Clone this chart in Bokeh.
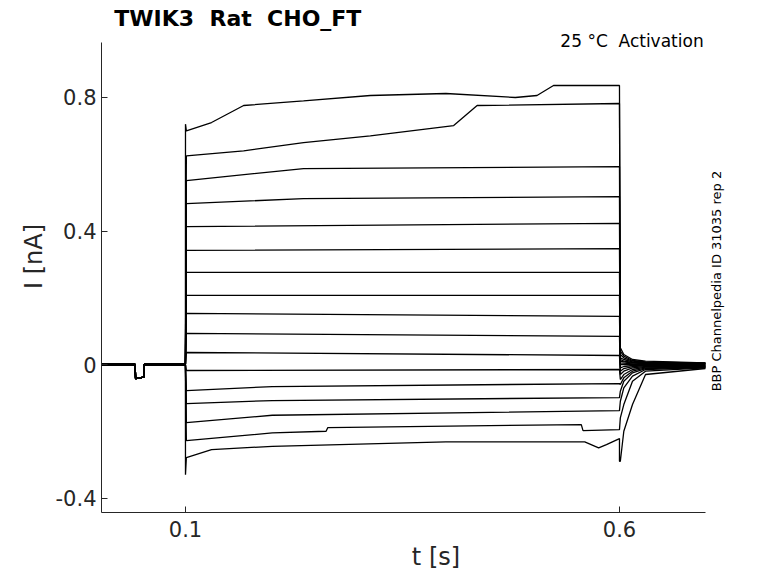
from bokeh.plotting import figure
from bokeh.models import Label, Range1d, FixedTicker
from bokeh.embed import file_html
from bokeh.resources import INLINE

# step-phase samples (t [s], I [nA]) per trace, top to bottom
step_t = [
    [0.101, 0.13, 0.167, 0.236, 0.313, 0.40, 0.48, 0.505, 0.524, 0.6],
    [0.101, 0.167, 0.236, 0.313, 0.409, 0.436, 0.6],
    [0.101, 0.236, 0.6], [0.101, 0.236, 0.6], [0.101, 0.6], [0.101, 0.6],
    [0.101, 0.6], [0.101, 0.6], [0.101, 0.6], [0.101, 0.6], [0.101, 0.6],
    [0.101, 0.6], [0.101, 0.2, 0.6], [0.101, 0.2, 0.6], [0.101, 0.2, 0.6],
    [0.101, 0.2, 0.262, 0.264, 0.556, 0.558, 0.6],
    [0.101, 0.13, 0.2, 0.4, 0.56, 0.576, 0.585, 0.6],
]
step_v = [
    [0.70, 0.725, 0.776, 0.790, 0.806, 0.812, 0.800, 0.806, 0.836, 0.836],
    [0.625, 0.640, 0.665, 0.685, 0.716, 0.776, 0.782],
    [0.551, 0.587, 0.593], [0.482, 0.497, 0.503], [0.413, 0.423], [0.342, 0.347],
    [0.276, 0.276], [0.207, 0.207], [0.153, 0.144], [0.093, 0.084], [0.036, 0.027],
    [-0.018, -0.015], [-0.078, -0.066, -0.057], [-0.117, -0.108, -0.099],
    [-0.174, -0.152, -0.138],
    [-0.228, -0.205, -0.200, -0.189, -0.180, -0.198, -0.195],
    [-0.279, -0.255, -0.245, -0.232, -0.232, -0.250, -0.240, -0.222],
]
onset_v = [0.72] + [None] * 15 + [-0.33]
tail_t = [0.601, 0.605, 0.615, 0.63, 0.699]
tail_v = [
    [0.05, 0.03, 0.015, 0.01, 0.005], [0.04, 0.025, 0.012, 0.008, 0.004],
    [0.03, 0.02, 0.01, 0.006, 0.004], [0.02, 0.015, 0.008, 0.005, 0.003],
    [0.015, 0.01, 0.006, 0.004, 0.002], [0.01, 0.008, 0.004, 0.003, 0.001],
    [0.005, 0.004, 0.002, 0.001, 0.0], [0.0, 0.0, 0.0, 0.0, -0.002],
    [-0.01, -0.006, -0.003, -0.002, -0.003], [-0.02, -0.012, -0.006, -0.004, -0.004],
    [-0.03, -0.02, -0.01, -0.006, -0.005], [-0.045, -0.03, -0.015, -0.008, -0.006],
    [-0.06, -0.04, -0.02, -0.01, -0.007], [-0.08, -0.05, -0.025, -0.012, -0.008],
    [-0.11, -0.07, -0.035, -0.015, -0.009], [-0.16, -0.12, -0.05, -0.02, -0.010],
    [-0.29, -0.20, -0.12, -0.03, -0.012],
]
base_t = [0.0035, 0.042, 0.0425, 0.052, 0.0525, 0.0999]
base_v = [0.0, 0.0, -0.042, -0.038, 0.0, 0.0]

p = figure(width=770, height=575, output_backend="svg", toolbar_location=None,
           x_range=Range1d(0.00323, 0.774), y_range=Range1d(-0.4434, 1.0906),
           min_border_left=101, min_border_right=0, min_border_top=0, min_border_bottom=63)
p.title.visible = False
p.grid.visible = False
p.outline_line_color = None

for i in range(len(step_t)):
    xs = list(base_t)
    ys = list(base_v)
    if onset_v[i] is not None:
        xs.append(0.1); ys.append(onset_v[i])
    xs += step_t[i]; ys += step_v[i]
    if i == 0:
        xs.append(0.6); ys.append(step_v[i][-1])
    if i == len(step_t) - 1:
        xs.append(0.6); ys.append(-0.29)
    xs += tail_t; ys += tail_v[i]
    p.line(xs, ys, line_color="black", line_width=1.3)

p.xaxis.ticker = FixedTicker(ticks=[0.1, 0.6])
p.yaxis.ticker = FixedTicker(ticks=[-0.4, 0, 0.4, 0.8])
p.xaxis.bounds = (0.00323, 0.699)
p.yaxis.bounds = (-0.4434, 0.965)
p.xaxis.major_label_overrides = {0.1: "0.1", 0.6: "0.6"}
p.yaxis.major_label_overrides = {-0.4: "-0.4", 0: "0", 0.4: "0.4", 0.8: "0.8"}
p.xaxis.axis_label = "t [s]"
p.yaxis.axis_label = "I [nA]"
for ax in (p.xaxis, p.yaxis):
    ax.major_label_text_font = "DejaVu Sans"
    ax.major_label_text_font_size = "21px"
    ax.major_label_text_color = "#262626"
    ax.axis_label_text_font = "DejaVu Sans"
    ax.axis_label_text_font_size = "24px"
    ax.axis_label_text_font_style = "normal"
    ax.axis_label_text_color = "#262626"
    ax.minor_tick_line_color = None
    ax.major_tick_in = 6
    ax.major_tick_out = 0
    ax.axis_line_color = "#262626"
    ax.major_tick_line_color = "#262626"
p.xaxis.major_label_standoff = 8
p.xaxis.axis_label_standoff = 3

NB = "\u00a0"
p.add_layout(Label(x=0.018, y=1.037, text="TWIK3" + NB * 2 + "Rat" + NB * 2 + "CHO_FT",
                   text_font="DejaVu Sans", text_color="black",
                   text_font_size="22px", text_font_style="bold", text_baseline="middle"))
p.add_layout(Label(x=0.697, y=0.97, text="25 °C" + NB * 2 + "Activation", text_font="DejaVu Sans",
                   text_color="black", text_font_size="17px", text_align="right",
                   text_baseline="middle"))
p.add_layout(Label(x=0.712, y=0.25, text="BBP Channelpedia ID 31035 rep 2", angle=1.5708,
                   text_font="DejaVu Sans", text_color="black", text_font_size="13px",
                   text_align="center", text_baseline="middle"))

open("out.html", "w").write(file_html(p, INLINE))
